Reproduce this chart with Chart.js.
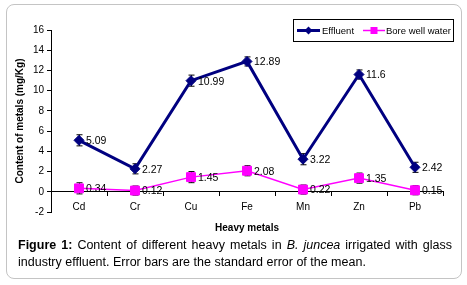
<!DOCTYPE html>
<html>
<head>
<meta charset="utf-8">
<script src="https://cdn.jsdelivr.net/npm/chart.js@4/dist/chart.umd.min.js"></script>
<style>
  html, body { margin: 0; padding: 0; background: #fff; overflow: hidden; }
  #wrap { position: relative; width: 467px; height: 285px; }
  #frame { position: absolute; left: 6px; top: 4px; width: 456px; height: 275px;
           border: 1.5px solid #c4c4c4; border-radius: 8px; box-sizing: border-box; }
  canvas { position: absolute; left: 0; top: 0; }
  .cap { position: absolute; left: 18px; width: 434px; font-family: "Liberation Sans", Arial, sans-serif;
         font-size: 12.5px; line-height: 17px; color: #000; white-space: nowrap; }
  #cap1 { top: 237px; text-align: justify; text-align-last: justify; }
  #cap2 { top: 254px; }
</style>
</head>
<body>
<div id="wrap">
  <div id="frame"></div>
  <canvas id="c" width="467" height="285"></canvas>
  <div class="cap" id="cap1"><b>Figure 1:</b> Content of different heavy metals in <i>B. juncea</i> irrigated with glass</div>
  <div class="cap" id="cap2">industry effluent. Error bars are the standard error of the mean.</div>
</div>
<script>
const categories = ['Cd', 'Cr', 'Cu', 'Fe', 'Mn', 'Zn', 'Pb'];
const effluent = [5.09, 2.27, 10.99, 12.89, 3.22, 11.6, 2.42];
const effluentErr = [0.55, 0.5, 0.55, 0.45, 0.55, 0.45, 0.5];
const borewell = [0.34, 0.12, 1.45, 2.08, 0.22, 1.35, 0.15];
const borewellErr = [0.55, 0.45, 0.55, 0.5, 0.45, 0.5, 0.45];
const yMin = -2, yMax = 16, yStep = 2;
const seriesNames = ['Effluent', 'Bore well water'];
const yTitle = 'Content of metals (mg/Kg)';
const xTitle = 'Heavy metals';

const FONT = '"Liberation Sans", Arial, sans-serif';

const extras = {
  id: 'extras',
  beforeDatasetsDraw(chart) {
    const ctx = chart.ctx;
    const ys = chart.scales.y;
    ctx.save();
    ctx.strokeStyle = '#000';
    ctx.lineWidth = 1;
    chart.data.datasets.forEach((ds, di) => {
      const meta = chart.getDatasetMeta(di);
      meta.data.forEach((pt, i) => {
        const v = ds.data[i], e = ds.errors[i];
        const x = Math.round(pt.x) + 0.5;
        const t = ys.getPixelForValue(v + e), b = ys.getPixelForValue(v - e);
        ctx.beginPath();
        ctx.moveTo(x, t); ctx.lineTo(x, b);
        ctx.moveTo(x - 3, t); ctx.lineTo(x + 3, t);
        ctx.moveTo(x - 3, b); ctx.lineTo(x + 3, b);
        ctx.stroke();
      });
    });
    ctx.restore();
  },
  afterDatasetsDraw(chart) {
    const ctx = chart.ctx;
    ctx.save();
    ctx.fillStyle = '#000';
    ctx.font = '10.5px ' + FONT;
    ctx.textAlign = 'left';
    ctx.textBaseline = 'middle';
    chart.data.datasets.forEach((ds, di) => {
      const meta = chart.getDatasetMeta(di);
      meta.data.forEach((pt, i) => {
        ctx.fillText(String(ds.data[i]), pt.x + 7, pt.y + 1);
      });
    });
    ctx.restore();
  },
  afterDraw(chart) {
    const ctx = chart.ctx;
    const ca = chart.chartArea;
    ctx.save();
    ctx.fillStyle = '#000';
    ctx.font = 'bold 10px ' + FONT;
    ctx.textAlign = 'center';
    ctx.textBaseline = 'middle';
    ctx.fillText(xTitle, (ca.left + ca.right) / 2, 228);
    ctx.save();
    ctx.translate(20, (ca.top + ca.bottom) / 2);
    ctx.rotate(-Math.PI / 2);
    ctx.fillText(yTitle, 0, 0);
    ctx.restore();

    // legend
    const lx = 293.5, ly = 19.5, lw = 160, lh = 22;
    ctx.fillStyle = '#fff';
    ctx.fillRect(lx, ly, lw, lh);
    ctx.strokeStyle = '#000';
    ctx.lineWidth = 1;
    ctx.strokeRect(lx, ly, lw, lh);
    const cy = ly + lh / 2;
    const items = [{x0: 297, x1: 320, tx: 322}, {x0: 363, x1: 385, tx: 386}];
    chart.data.datasets.forEach((ds, di) => {
      const it = items[di];
      ctx.strokeStyle = ds.borderColor;
      ctx.lineWidth = ds.borderWidth;
      ctx.beginPath();
      ctx.moveTo(it.x0, cy); ctx.lineTo(it.x1, cy);
      ctx.stroke();
      const mx = (it.x0 + it.x1) / 2;
      ctx.fillStyle = ds.pointBackgroundColor;
      ctx.beginPath();
      if (ds.pointStyle === 'rectRot') {
        ctx.moveTo(mx - 4, cy); ctx.lineTo(mx, cy - 4); ctx.lineTo(mx + 4, cy); ctx.lineTo(mx, cy + 4);
      } else {
        ctx.rect(mx - 3.5, cy - 3.5, 7, 7);
      }
      ctx.closePath();
      ctx.fill();
      ctx.fillStyle = '#000';
      ctx.font = '9.5px ' + FONT;
      ctx.textAlign = 'left';
      ctx.fillText(ds.label, it.tx, cy + 0.5);
    });
    ctx.restore();
  }
};

new Chart(document.getElementById('c'), {
  type: 'line',
  data: {
    labels: categories,
    datasets: [
      {
        label: seriesNames[0], data: effluent, errors: effluentErr,
        borderColor: '#000080', backgroundColor: '#000080', borderWidth: 3,
        pointStyle: 'rectRot', pointRadius: 5, pointBackgroundColor: '#000080',
        pointBorderColor: '#000080', pointBorderWidth: 1, tension: 0, fill: false
      },
      {
        label: seriesNames[1], data: borewell, errors: borewellErr,
        borderColor: '#ff00ff', backgroundColor: '#ff00ff', borderWidth: 1.5,
        pointStyle: 'rect', pointRadius: 6.3, pointBackgroundColor: '#ff00ff',
        pointBorderColor: '#ff00ff', pointBorderWidth: 1, tension: 0, fill: false
      }
    ]
  },
  options: {
    responsive: false,
    animation: false,
    devicePixelRatio: 1,
    layout: { padding: { left: 0, right: 24, top: 30, bottom: 73 } },
    plugins: { legend: { display: false }, tooltip: { enabled: false } },
    scales: {
      x: {
        type: 'category',
        offset: true,
        position: { y: 0 },
        grid: { display: true, drawOnChartArea: false, offset: true, tickLength: 4, color: '#000', tickWidth: 1 },
        border: { display: true, color: '#000', width: 1 },
        ticks: { color: '#000', font: { family: FONT, size: 10 }, padding: 5, maxRotation: 0 }
      },
      y: {
        min: yMin, max: yMax,
        afterFit(scale) { scale.width = 51; },
        grid: { display: true, drawOnChartArea: false, tickLength: 4, color: '#000' },
        border: { display: true, color: '#000', width: 1 },
        ticks: { stepSize: yStep, color: '#000', font: { family: FONT, size: 10 }, padding: 3 }
      }
    }
  },
  plugins: [extras]
});
</script>
</body>
</html>
